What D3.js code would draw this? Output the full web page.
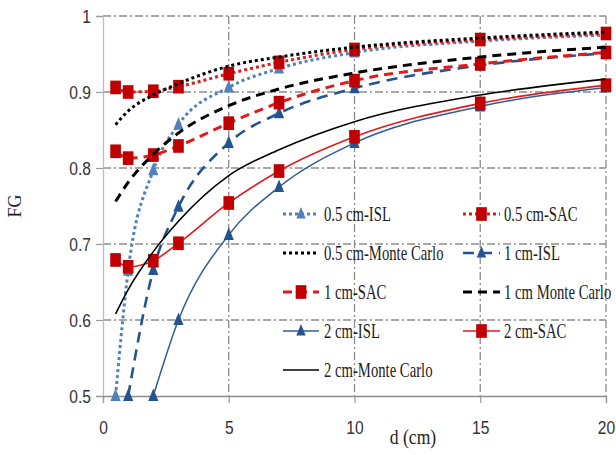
<!DOCTYPE html>
<html>
<head>
<meta charset="utf-8">
<script src="https://cdn.jsdelivr.net/npm/d3@7"></script>
<style>
  html, body { margin: 0; padding: 0; background: #fff; }
  svg { display: block; }
</style>
</head>
<body>
<div id="chart"></div>
<script>
// Distances d (cm)
const dAll = [0.5, 1, 2, 3, 5, 7, 10, 15, 20];
const dFrom1 = [1, 2, 3, 5, 7, 10, 15, 20];
const dFrom2 = [2, 3, 5, 7, 10, 15, 20];

// FG values per series
const isl05 = [0.5, 0.665, 0.797, 0.857, 0.906, 0.931, 0.952, 0.967, 0.975];
const sac05 = [0.906, 0.900, 0.901, 0.907, 0.924, 0.939, 0.956, 0.969, 0.977];
const mc05  = [0.857, 0.875, 0.896, 0.911, 0.934, 0.946, 0.959, 0.971, 0.979];
const isl1  = [0.5, 0.666, 0.749, 0.833, 0.872, 0.905, 0.935, 0.951];
const sac1  = [0.822, 0.813, 0.817, 0.829, 0.859, 0.886, 0.915, 0.937, 0.952];
const mc1   = [0.756, 0.781, 0.818, 0.846, 0.882, 0.904, 0.925, 0.946, 0.959];
const isl2  = [0.5, 0.600, 0.712, 0.775, 0.833, 0.881, 0.906];
const sac2  = [0.679, 0.670, 0.678, 0.701, 0.754, 0.796, 0.841, 0.885, 0.909];
const mc2   = [0.608, 0.640, 0.690, 0.730, 0.790, 0.824, 0.861, 0.896, 0.917];

const seriesNames = ["0.5 cm-ISL", "0.5 cm-SAC", "0.5 cm-Monte Carlo", "1 cm-ISL",
  "1 cm-SAC", "1 cm Monte Carlo", "2 cm-ISL", "2 cm-SAC", "2 cm-Monte Carlo"];

const xTicks = [0, 5, 10, 15, 20];
const yTicks = [0.5, 0.6, 0.7, 0.8, 0.9, 1];
const yTickLabels = ["0.5", "0.6", "0.7", "0.8", "0.9", "1"];

const W = 616, H = 455;
const plot = { left: 103, right: 606, top: 16, bottom: 396 };

const x = d3.scaleLinear().domain([0, 20]).range([plot.left, plot.right]);
const y = d3.scaleLinear().domain([0.5, 1]).range([plot.bottom, plot.top]);

const RED_LINE = "#e31a1c", RED_MARK = "#c00000";
const BLUE_LIGHT = "#4f81bd", BLUE_MID = "#24548f", BLUE_DARK = "#2f5c97";

const DOT = "3 3", DASH = "9 6";

const series = [
  { name: seriesNames[0], d: dAll,   v: isl05, color: BLUE_LIGHT, width: 3,   dash: DOT,  marker: "tri",    mcolor: BLUE_LIGHT },
  { name: seriesNames[1], d: dAll,   v: sac05, color: RED_LINE,   width: 3,   dash: DOT,  marker: "square", mcolor: RED_MARK },
  { name: seriesNames[2], d: dAll,   v: mc05,  color: "#000",     width: 3,   dash: DOT,  marker: null },
  { name: seriesNames[3], d: dFrom1, v: isl1,  color: BLUE_MID,   width: 2.6, dash: "11 7", marker: "tri",  mcolor: BLUE_MID },
  { name: seriesNames[4], d: dAll,   v: sac1,  color: RED_LINE,   width: 3,   dash: DASH, marker: "square", mcolor: RED_MARK },
  { name: seriesNames[5], d: dAll,   v: mc1,   color: "#000",     width: 3,   dash: DASH, marker: null },
  { name: seriesNames[6], d: dFrom2, v: isl2,  color: BLUE_DARK,  width: 1.5, dash: null, marker: "tri",    mcolor: BLUE_MID },
  { name: seriesNames[7], d: dAll,   v: sac2,  color: RED_LINE,   width: 1.6, dash: null, marker: "square", mcolor: RED_MARK },
  { name: seriesNames[8], d: dAll,   v: mc2,   color: "#000",     width: 1.6, dash: null, marker: null }
];

const svg = d3.select("#chart").append("svg").attr("width", W).attr("height", H);

// Dash-dot gridlines
const GRID = "#8c8c8c", GRID_DASH = "8 3 2 3";
svg.append("g").selectAll("line").data(yTicks.filter(t => t > 0.5)).join("line")
  .attr("x1", plot.left).attr("x2", plot.right)
  .attr("y1", d => y(d)).attr("y2", d => y(d))
  .attr("stroke", GRID).attr("stroke-width", 1.3).attr("stroke-dasharray", GRID_DASH);
svg.append("g").selectAll("line").data(xTicks.filter(t => t > 0)).join("line")
  .attr("x1", d => x(d)).attr("x2", d => x(d))
  .attr("y1", plot.top).attr("y2", plot.bottom)
  .attr("stroke", GRID).attr("stroke-width", 1.3).attr("stroke-dasharray", GRID_DASH);

// Axes
const yAxis = d3.axisLeft(y).tickValues(yTicks).tickSize(7).tickFormat((d, i) => yTickLabels[i]);
const gy = svg.append("g").attr("transform", `translate(${plot.left},0)`).call(yAxis);
gy.select(".domain").attr("stroke", "#bdbdbd").attr("stroke-width", 1.3);
gy.selectAll(".tick line").attr("stroke", "#9a9a9a").attr("stroke-width", 1.2);
gy.selectAll(".tick text").attr("x", 0).attr("font-family", "'Liberation Sans', Arial, sans-serif")
  .attr("font-size", 19).attr("fill", "#333").attr("text-anchor", "end")
  .attr("transform", "translate(-12,0) scale(0.82,1)");

const xAxis = d3.axisBottom(x).tickValues(xTicks).tickSize(7).tickFormat(d3.format("d"));
const gx = svg.append("g").attr("transform", `translate(0,${plot.bottom})`).call(xAxis);
gx.select(".domain").attr("stroke", "#8c8c8c").attr("stroke-width", 1.3);
gx.selectAll(".tick line").attr("stroke", "#9a9a9a").attr("stroke-width", 1.2);
gx.selectAll(".tick text").attr("y", 0).attr("dy", 0).attr("font-family", "'Liberation Sans', Arial, sans-serif")
  .attr("font-size", 19).attr("fill", "#333")
  .attr("transform", "translate(0,38) scale(0.82,1)");

// Axis titles
svg.append("text").attr("transform", "translate(413,444) scale(0.8,1)")
  .attr("text-anchor", "middle").attr("font-family", "'Liberation Serif', 'Times New Roman', serif")
  .attr("font-size", 22).attr("fill", "#222").text("d (cm)");
svg.append("text").attr("transform", "translate(21,206) rotate(-90)")
  .attr("text-anchor", "middle").attr("font-family", "'Liberation Serif', 'Times New Roman', serif")
  .attr("font-size", 18).attr("fill", "#222").text("FG");

// Series lines and markers
svg.append("clipPath").attr("id", "plotclip").append("rect")
  .attr("x", plot.left).attr("y", plot.top - 8)
  .attr("width", plot.right - plot.left + 10).attr("height", plot.bottom - plot.top + 8);

const line = d3.line().x(p => x(p[0])).y(p => y(p[1])).curve(d3.curveMonotoneX);

function drawMarker(g, type, cx, cy, color, size) {
  if (type === "square") {
    const w = size * 0.82, h = size * 1.05;
    g.append("rect").attr("x", cx - w / 2).attr("y", cy - h / 2).attr("width", w).attr("height", h)
      .attr("fill", color);
  } else if (type === "tri") {
    const w = size * 0.85, h = size * 1.05;
    g.append("path").attr("d", `M${cx},${cy - h * 0.6}L${cx + w / 2},${cy + h * 0.4}L${cx - w / 2},${cy + h * 0.4}Z`)
      .attr("fill", color);
  }
}

const gSeries = svg.append("g");
series.forEach(s => {
  const pts = s.d.map((d, i) => [d, s.v[i]]);
  gSeries.append("path").datum(pts).attr("d", line)
    .attr("fill", "none").attr("stroke", s.color).attr("stroke-width", s.width)
    .attr("stroke-dasharray", s.dash).attr("clip-path", "url(#plotclip)");
  if (s.marker) {
    const gm = gSeries.append("g");
    pts.forEach(p => drawMarker(gm, s.marker, x(p[0]), y(p[1]), s.mcolor, s.marker === "square" ? 13 : 12));
  }
});

// Legend: two columns, row-major
const legCols = [{ x0: 283, x1: 319, tx: 324 }, { x0: 463, x1: 500, tx: 504 }];
const legRowY = [214, 253, 292, 331, 370];
const gLeg = svg.append("g");
series.forEach((s, i) => {
  const c = legCols[i % 2], ry = legRowY[Math.floor(i / 2)];
  gLeg.append("line").attr("x1", c.x0).attr("x2", c.x1).attr("y1", ry).attr("y2", ry)
    .attr("stroke", s.color).attr("stroke-width", s.width).attr("stroke-dasharray", s.dash);
  if (s.marker) drawMarker(gLeg, s.marker, (c.x0 + c.x1) / 2, ry, s.mcolor, s.marker === "square" ? 13 : 11);
  gLeg.append("text").attr("transform", `translate(${c.tx},${ry + 7}) scale(0.7,1)`)
    .attr("font-family", "'Liberation Serif', 'Times New Roman', serif")
    .attr("font-size", 21).attr("fill", "#222").text(s.name);
});
</script>
</body>
</html>
